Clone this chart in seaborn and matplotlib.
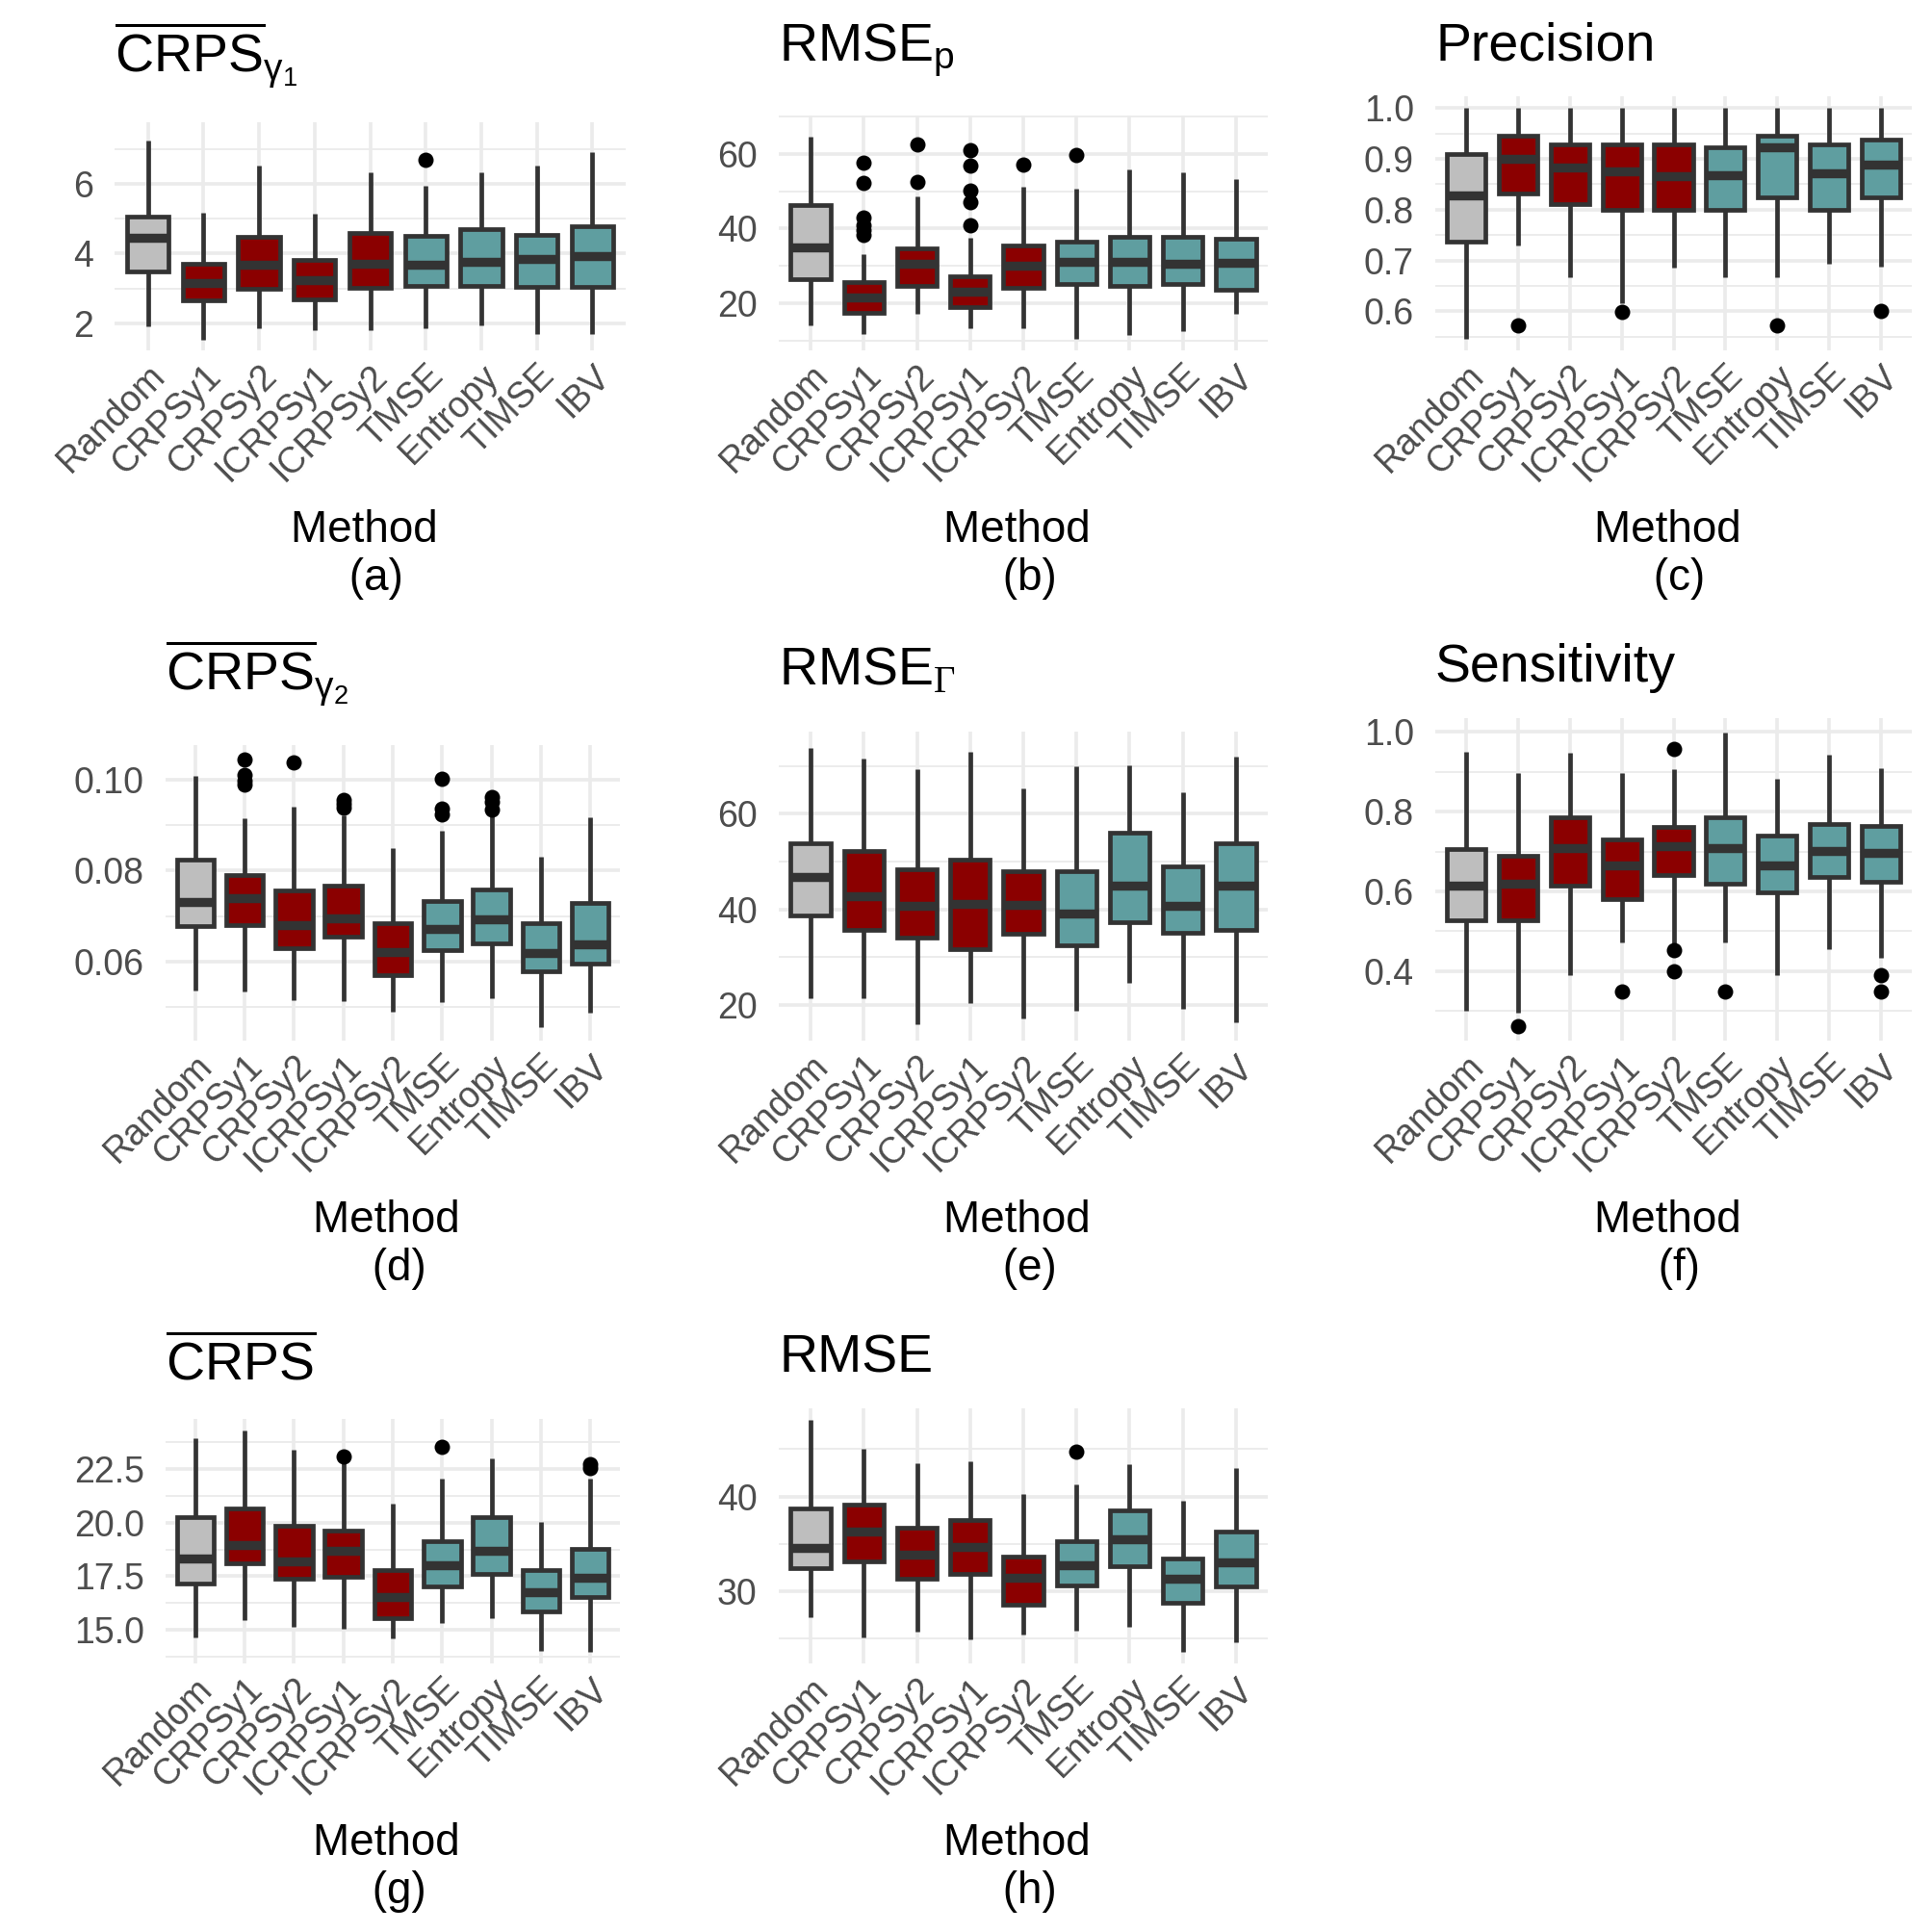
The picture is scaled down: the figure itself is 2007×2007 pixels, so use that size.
import numpy as np
import pandas as pd
import seaborn as sns
import matplotlib
matplotlib.use("Agg")
import matplotlib.pyplot as plt
from matplotlib.ticker import MultipleLocator, FormatStrFormatter

# Methods and colours
methods = ["Random", "CRPSy1", "CRPSy2", "ICRPSy1", "ICRPSy2",
           "TMSE", "Entropy", "TIMSE", "IBV"]
box_colors = {"Random": "#BEBEBE",
              "CRPSy1": "#8B0000", "CRPSy2": "#8B0000",
              "ICRPSy1": "#8B0000", "ICRPSy2": "#8B0000",
              "TMSE": "#5F9EA0", "Entropy": "#5F9EA0",
              "TIMSE": "#5F9EA0", "IBV": "#5F9EA0"}

# Box summaries: [lower whisker, Q1, median, Q3, upper whisker]
crps_g1 = [[1.91, 3.50, 4.44, 5.07, 7.23],
           [1.53, 2.67, 3.17, 3.70, 5.17],
           [1.86, 2.98, 3.67, 4.48, 6.51],
           [1.81, 2.69, 3.24, 3.83, 5.15],
           [1.81, 3.02, 3.72, 4.58, 6.32],
           [1.86, 3.07, 3.67, 4.50, 5.95],
           [1.94, 3.07, 3.76, 4.70, 6.32],
           [1.69, 3.06, 3.85, 4.54, 6.51],
           [1.71, 3.04, 3.92, 4.78, 6.91]]
crps_g1_out = [("TMSE", 6.69)]

rmse_p = [[14.0, 26.4, 34.9, 46.2, 64.6],
          [11.7, 17.5, 21.6, 25.8, 33.2],
          [17.1, 24.6, 30.5, 34.6, 48.7],
          [13.2, 18.9, 23.2, 27.3, 37.5],
          [13.2, 24.1, 30.0, 35.6, 51.1],
          [10.4, 25.1, 31.0, 36.6, 50.8],
          [11.4, 24.6, 31.2, 37.9, 55.9],
          [12.4, 25.1, 30.6, 37.9, 55.2],
          [17.1, 23.5, 30.8, 37.2, 53.4]]
rmse_p_out = [("CRPSy1", 57.7), ("CRPSy1", 52.2), ("CRPSy1", 42.9),
              ("CRPSy1", 40.9), ("CRPSy1", 39.5), ("CRPSy1", 38.3),
              ("CRPSy2", 62.6), ("CRPSy2", 52.4),
              ("ICRPSy1", 61.1), ("ICRPSy1", 56.8), ("ICRPSy1", 50.2),
              ("ICRPSy1", 47.1), ("ICRPSy1", 41.0),
              ("ICRPSy2", 57.1), ("TMSE", 59.7)]

precision = [[0.546, 0.737, 0.828, 0.910, 1.0],
             [0.729, 0.831, 0.900, 0.945, 1.0],
             [0.667, 0.810, 0.883, 0.928, 1.0],
             [0.616, 0.800, 0.875, 0.928, 1.0],
             [0.685, 0.800, 0.866, 0.928, 1.0],
             [0.667, 0.800, 0.868, 0.923, 1.0],
             [0.667, 0.824, 0.923, 0.945, 1.0],
             [0.693, 0.800, 0.871, 0.928, 1.0],
             [0.688, 0.824, 0.888, 0.938, 1.0]]
precision_out = [("CRPSy1", 0.572), ("ICRPSy1", 0.599),
                 ("Entropy", 0.572), ("IBV", 0.600)]

crps_g2 = [[0.0536, 0.0679, 0.0731, 0.0824, 0.1007],
           [0.0534, 0.0681, 0.0739, 0.0790, 0.0915],
           [0.0515, 0.0629, 0.0681, 0.0756, 0.0940],
           [0.0513, 0.0654, 0.0696, 0.0767, 0.0920],
           [0.0491, 0.0570, 0.0621, 0.0685, 0.0849],
           [0.0511, 0.0626, 0.0672, 0.0734, 0.0888],
           [0.0520, 0.0641, 0.0694, 0.0759, 0.0918],
           [0.0456, 0.0579, 0.0620, 0.0684, 0.0831],
           [0.0488, 0.0595, 0.0639, 0.0728, 0.0916]]
crps_g2_out = [("CRPSy1", 0.1044), ("CRPSy1", 0.1010), ("CRPSy1", 0.0996),
               ("CRPSy1", 0.0988), ("CRPSy2", 0.1038),
               ("ICRPSy1", 0.0955), ("ICRPSy1", 0.0947), ("ICRPSy1", 0.0938),
               ("TMSE", 0.1001), ("TMSE", 0.0935), ("TMSE", 0.0924),
               ("Entropy", 0.0961), ("Entropy", 0.0950), ("Entropy", 0.0933)]

rmse_gamma = [[21.4, 38.8, 46.8, 53.8, 73.8],
              [21.4, 35.7, 42.7, 52.3, 71.5],
              [15.9, 34.1, 40.7, 48.3, 69.4],
              [20.3, 31.7, 41.2, 50.4, 72.9],
              [17.2, 34.9, 40.9, 48.0, 65.4],
              [18.8, 32.4, 39.2, 48.0, 70.0],
              [24.5, 37.3, 44.9, 56.1, 70.2],
              [19.2, 35.1, 40.7, 49.0, 64.6],
              [16.3, 35.7, 44.9, 53.8, 71.9]]
rmse_gamma_out = []

sensitivity = [[0.300, 0.527, 0.614, 0.707, 0.950],
               [0.296, 0.527, 0.618, 0.689, 0.898],
               [0.390, 0.614, 0.708, 0.786, 0.949],
               [0.471, 0.581, 0.665, 0.731, 0.898],
               [0.467, 0.641, 0.713, 0.761, 0.908],
               [0.471, 0.620, 0.708, 0.786, 0.998],
               [0.390, 0.598, 0.665, 0.739, 0.882],
               [0.454, 0.637, 0.701, 0.769, 0.944],
               [0.434, 0.625, 0.697, 0.764, 0.910]]
sensitivity_out = [("CRPSy1", 0.262), ("ICRPSy1", 0.348),
                   ("ICRPSy2", 0.957), ("ICRPSy2", 0.452), ("ICRPSy2", 0.398),
                   ("TMSE", 0.348), ("IBV", 0.390), ("IBV", 0.348)]

crps = [[14.66, 17.18, 18.35, 20.25, 23.93],
        [15.45, 18.10, 18.98, 20.65, 24.33],
        [15.15, 17.40, 18.18, 19.88, 23.40],
        [15.03, 17.48, 18.70, 19.65, 22.80],
        [14.58, 15.55, 16.55, 17.78, 20.90],
        [15.33, 17.03, 18.00, 19.13, 22.05],
        [15.55, 17.60, 18.70, 20.25, 22.99],
        [14.03, 15.86, 16.77, 17.78, 20.03],
        [13.95, 16.55, 17.45, 18.80, 22.05]]
crps_out = [("ICRPSy1", 23.1), ("TMSE", 23.55), ("IBV", 22.75), ("IBV", 22.55)]

rmse = [[27.3, 32.4, 34.6, 38.7, 48.1],
        [25.15, 33.2, 36.3, 39.1, 45.05],
        [25.8, 31.3, 33.9, 36.7, 43.5],
        [24.9, 31.8, 34.7, 37.5, 43.75],
        [25.4, 28.6, 31.4, 33.7, 40.3],
        [25.9, 30.6, 32.8, 35.3, 41.3],
        [26.25, 32.7, 35.5, 38.5, 43.4],
        [23.6, 28.8, 31.3, 33.5, 39.55],
        [24.6, 30.5, 33.1, 36.3, 43.0]]
rmse_out = [("TMSE", 44.7)]

titles = [r"$\overline{\mathrm{CRPS}}_{\mathrm{\gamma}_1}$", r"RMSE$_{\mathrm{p}}$", "Precision",
          r"$\overline{\mathrm{CRPS}}_{\mathrm{\gamma}_2}$", r"RMSE$_{\mathsf{\Gamma}}$", "Sensitivity",
          r"$\overline{\mathrm{CRPS}}$", "RMSE"]
captions = ["(a)", "(b)", "(c)", "(d)", "(e)", "(f)", "(g)", "(h)"]

# Theme
sns.set_theme(style="whitegrid")
plt.rcParams['font.family'] = ['Liberation Sans', 'DejaVu Sans']
plt.rcParams['mathtext.fontset'] = 'custom'
plt.rcParams['mathtext.rm'] = 'Liberation Sans'
plt.rcParams['mathtext.it'] = 'Liberation Sans:italic'
plt.rcParams['mathtext.bf'] = 'Liberation Sans:bold'
plt.rcParams['mathtext.sf'] = 'Liberation Serif'

W = 2007.0
fig = plt.figure(figsize=(20.07, 20.07), dpi=100)
fig.patch.set_facecolor("white")

# panel boxes in pixels: left, right, top, bottom
panels = [
    (crps_g1, crps_g1_out, (1.23, 7.76), 2, 1, "%d", (119, 650, 127, 364), 37),
    (rmse_p, rmse_p_out, (7.36, 70.3), 20, 10, "%d", (809, 1317, 120, 364), 41),
    (precision, precision_out, (0.523, 1.023), 0.1, 0.05, "%.1f", (1491, 1986, 100, 364), 27),
    (crps_g2, crps_g2_out, (0.0427, 0.1075), 0.02, 0.01, "%.2f", (172, 644, 774, 1081), 41),
    (rmse_gamma, rmse_gamma_out, (12.5, 77.2), 20, 10, "%d", (809, 1317, 760, 1081), 35),
    (sensitivity, sensitivity_out, (0.225, 1.035), 0.2, 0.1, "%.1f", (1491, 1986, 746, 1081), 27),
    (crps, crps_out, (13.43, 24.85), 2.5, 1.25, "%.1f", (172, 644, 1474, 1728), 29),
    (rmse, rmse_out, (22.4, 49.3), 10, 5, "%d", (809, 1317, 1463, 1728), 27),
]

for i, (stats, outs, ylim, major, minor, fmt, box, tpad) in enumerate(panels):
    x0, x1, ytop, ybot = box
    ax = fig.add_axes([x0 / W, 1 - ybot / W, (x1 - x0) / W, (ybot - ytop) / W])
    ax.set_facecolor("white")

    df = pd.DataFrame({"Method": np.repeat(methods, 5), "value": np.ravel(stats)})
    sns.boxplot(data=df, x="Method", y="value", hue="Method", order=methods,
                hue_order=methods, palette=box_colors, saturation=1, width=0.75,
                whis=(0, 100), showfliers=False, showcaps=False,
                linecolor="#333333", linewidth=3.4,
                medianprops={"linewidth": 6.8}, legend=False, ax=ax)
    if outs:
        odf = pd.DataFrame(outs, columns=["Method", "value"])
        sns.stripplot(data=odf, x="Method", y="value", order=methods,
                      color="black", jitter=False, size=11.5, linewidth=0, ax=ax)

    ax.set_xlim(-0.6, len(methods) - 0.4)
    ax.set_ylim(ylim)
    ax.yaxis.set_major_locator(MultipleLocator(major))
    ax.yaxis.set_minor_locator(MultipleLocator(minor))
    ax.yaxis.set_major_formatter(FormatStrFormatter(fmt))

    ax.grid(False)
    ax.set_axisbelow(True)
    ax.xaxis.grid(True, which="major", color="#EBEBEB", linewidth=2.6)
    ax.yaxis.grid(True, which="major", color="#EBEBEB", linewidth=2.6)
    ax.yaxis.grid(True, which="minor", color="#EBEBEB", linewidth=1.3)
    for s in ax.spines.values():
        s.set_visible(False)

    ax.tick_params(axis="both", which="both", length=0, labelsize=27, labelcolor="#4D4D4D")
    ax.tick_params(axis="y", pad=16)
    ax.tick_params(axis="x", pad=6)
    plt.setp(ax.get_xticklabels(), rotation=45, ha="right", va="top", rotation_mode="anchor")

    ax.set_title(titles[i], loc="left", fontsize=40, pad=tpad, color="black")
    ax.set_ylabel("")
    ax.set_xlabel("Method \n " + captions[i], fontsize=33, color="black",
                  labelpad=16, linespacing=1.16)

fig.savefig("out.png", dpi=100)
